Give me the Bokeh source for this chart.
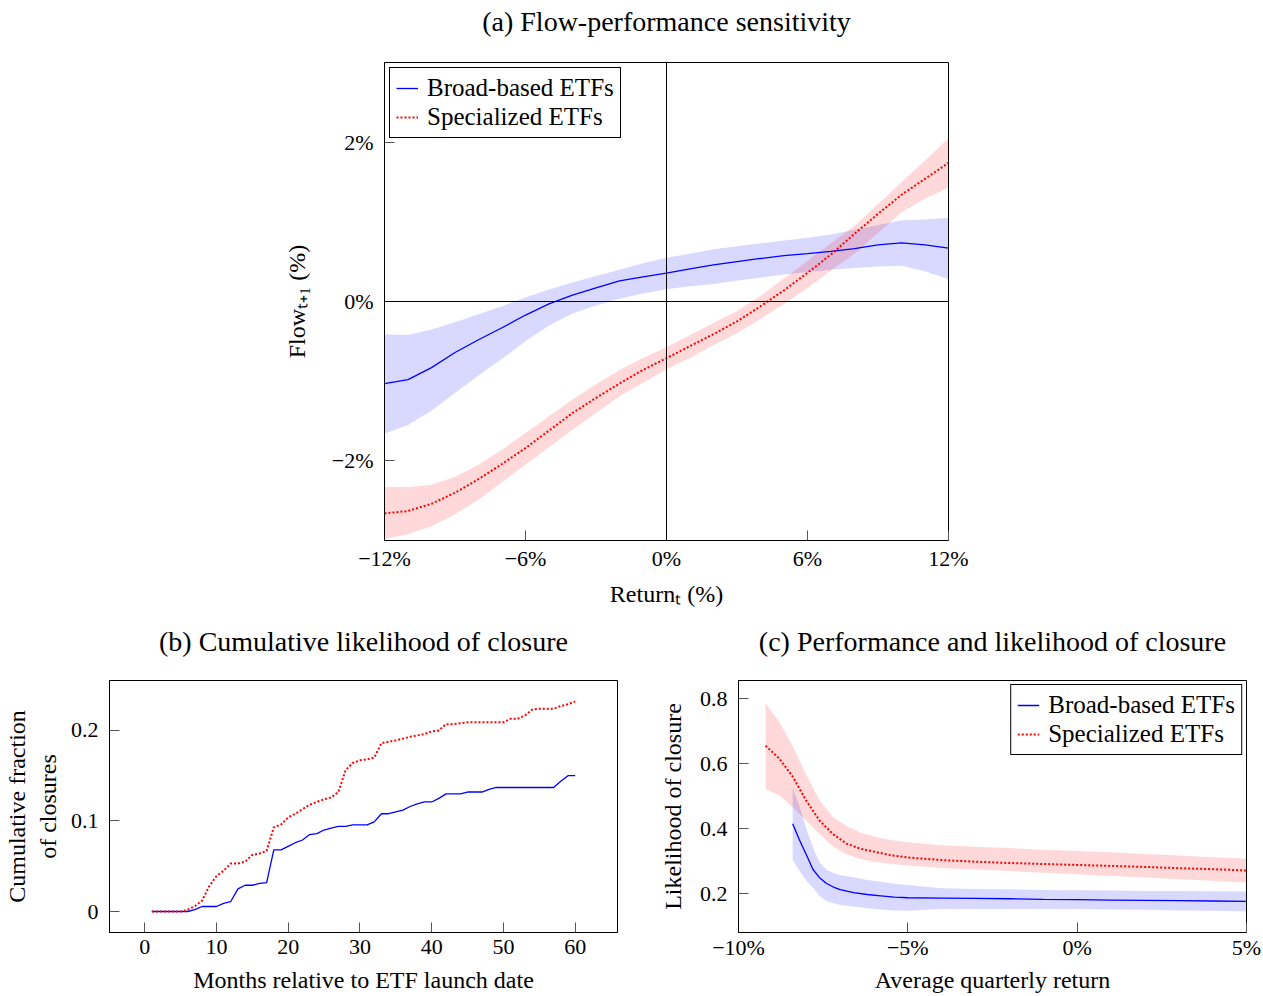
from bokeh.plotting import figure
from bokeh.models import Range1d, FixedTicker, CustomJSTickFormatter, Span, LinearAxis
from bokeh.layouts import column, row
from bokeh.embed import file_html
from bokeh.resources import INLINE

FONT = "Liberation Serif"

# ---------------- Panel (a): flow-performance sensitivity ----------------
a_x = [-12, -11, -10, -9, -8, -7, -6, -5, -4, -3, -2, -1, 0,
       1, 2, 3, 4, 5, 6, 7, 8, 9, 10, 11, 12]
a_broad = [-1.03, -0.98, -0.83, -0.64, -0.48, -0.33, -0.17, -0.03, 0.08, 0.17, 0.26, 0.31, 0.355,
           0.41, 0.46, 0.50, 0.54, 0.575, 0.60, 0.63, 0.665, 0.71, 0.735, 0.71, 0.67]
a_broad_hi = [-0.41, -0.42, -0.35, -0.26, -0.16, -0.06, 0.05, 0.15, 0.24, 0.32, 0.40, 0.48, 0.55,
              0.60, 0.655, 0.695, 0.73, 0.765, 0.80, 0.84, 0.90, 0.96, 1.02, 1.03, 1.05]
a_broad_lo = [-1.66, -1.55, -1.37, -1.15, -0.93, -0.72, -0.50, -0.30, -0.15, -0.05, 0.035, 0.10, 0.155,
              0.19, 0.22, 0.26, 0.30, 0.34, 0.37, 0.40, 0.42, 0.44, 0.45, 0.38, 0.28]
a_spec = [-2.66, -2.63, -2.54, -2.40, -2.23, -2.04, -1.84, -1.62, -1.40, -1.21, -1.03, -0.86, -0.71,
          -0.56, -0.41, -0.25, -0.06, 0.14, 0.36, 0.59, 0.85, 1.10, 1.34, 1.54, 1.74]
a_spec_hi = [-2.33, -2.33, -2.30, -2.20, -2.05, -1.86, -1.65, -1.44, -1.23, -1.04, -0.86, -0.71, -0.57,
             -0.42, -0.27, -0.12, 0.07, 0.29, 0.51, 0.73, 0.95, 1.22, 1.50, 1.77, 2.05]
a_spec_lo = [-2.98, -2.92, -2.82, -2.67, -2.49, -2.27, -2.05, -1.83, -1.61, -1.40, -1.19, -1.02, -0.85,
             -0.71, -0.55, -0.40, -0.22, -0.03, 0.17, 0.39, 0.60, 0.86, 1.12, 1.29, 1.43]
a_xticks = [-12, -6, 0, 6, 12]
a_yticks = [-2, 0, 2]

# ---------------- Panel (b): cumulative likelihood of closure ----------------
b_months = list(range(1, 61))
b_broad = [0, 0, 0, 0, 0, 0, 0.002, 0.0055, 0.0055, 0.0055,
           0.009, 0.011, 0.025, 0.029, 0.029, 0.031, 0.032, 0.068, 0.068, 0.072,
           0.076, 0.079, 0.085, 0.086, 0.090, 0.092, 0.094, 0.094, 0.0956, 0.0956,
           0.0956, 0.099, 0.108, 0.108, 0.110, 0.112, 0.116, 0.119, 0.121, 0.121,
           0.125, 0.130, 0.130, 0.130, 0.132, 0.132, 0.132, 0.135, 0.137, 0.137,
           0.137, 0.137, 0.137, 0.137, 0.137, 0.137, 0.137, 0.144, 0.150, 0.150]
b_spec = [0, 0, 0, 0, 0, 0.002, 0.006, 0.012, 0.028, 0.039,
          0.045, 0.053, 0.053, 0.055, 0.0625, 0.064, 0.067, 0.093, 0.096, 0.104,
          0.108, 0.113, 0.118, 0.121, 0.124, 0.126, 0.132, 0.156, 0.164, 0.167,
          0.168, 0.170, 0.186, 0.1875, 0.189, 0.191, 0.193, 0.1945, 0.196, 0.199,
          0.200, 0.207, 0.207, 0.208, 0.209, 0.209, 0.209, 0.209, 0.209, 0.209,
          0.213, 0.213, 0.2165, 0.223, 0.224, 0.224, 0.224, 0.227, 0.229, 0.232]
b_xticks = [0, 10, 20, 30, 40, 50, 60]
b_yticks = [0, 0.1, 0.2]

# ---------------- Panel (c): performance and likelihood of closure ----------------
c_spec_x = [-9.2, -8.8, -8.4, -8.0, -7.6, -7.2, -6.8, -6.4, -6.0, -5.5, -5.0,
            -4.0, -3.0, -2.0, -1.0, 0, 1, 2, 3, 4, 5]
c_spec = [0.655, 0.616, 0.560, 0.486, 0.424, 0.382, 0.353, 0.338, 0.329, 0.318, 0.311,
          0.303, 0.298, 0.294, 0.291, 0.288, 0.285, 0.282, 0.278, 0.275, 0.271]
c_spec_hi = [0.785, 0.730, 0.655, 0.566, 0.486, 0.434, 0.407, 0.388, 0.376, 0.365, 0.358,
             0.349, 0.344, 0.340, 0.335, 0.331, 0.327, 0.322, 0.317, 0.312, 0.308]
c_spec_lo = [0.522, 0.503, 0.466, 0.424, 0.383, 0.343, 0.320, 0.306, 0.298, 0.291, 0.286,
             0.279, 0.274, 0.269, 0.264, 0.259, 0.254, 0.249, 0.244, 0.239, 0.234]
c_broad_x = [-8.4, -8.2, -8.0, -7.8, -7.6, -7.4, -7.2, -7.0, -6.6, -6.2, -5.8, -5.4, -5.0,
             -4.0, -3.0, -2.0, -1.0, 0, 1, 2, 3, 4, 5]
c_broad = [0.415, 0.365, 0.320, 0.274, 0.248, 0.231, 0.220, 0.212, 0.203, 0.197, 0.193, 0.189, 0.187,
           0.186, 0.185, 0.184, 0.182, 0.181, 0.180, 0.179, 0.178, 0.177, 0.176]
c_broad_hi = [0.524, 0.470, 0.400, 0.342, 0.295, 0.273, 0.263, 0.257, 0.250, 0.242, 0.236, 0.230, 0.226,
              0.216, 0.214, 0.213, 0.211, 0.210, 0.209, 0.208, 0.208, 0.207, 0.206]
c_broad_lo = [0.305, 0.270, 0.240, 0.218, 0.192, 0.176, 0.170, 0.165, 0.160, 0.155, 0.151, 0.148, 0.147,
              0.152, 0.152, 0.152, 0.152, 0.152, 0.151, 0.150, 0.148, 0.147, 0.145]
c_xticks = [-10, -5, 0, 5]
c_yticks = [0.2, 0.4, 0.6, 0.8]

BLUE = "#0000ff"
RED = "#ff0000"

pct_fmt = CustomJSTickFormatter(code="""
const s = Math.abs(tick).toFixed(0) + "%";
return tick < 0 ? "\u2212" + s : s;
""")
dec_fmt = CustomJSTickFormatter(code="""
return Math.abs(tick) < 1e-9 ? "0" : tick.toFixed(1);
""")
int_fmt = CustomJSTickFormatter(code="return tick.toFixed(0);")


def style(p, title, xticks, yticks, xfmt, yfmt, xlabel, ylabel,
          xstand=7, xlstand=6, ylstand=12, tstand=25):
    xax = p.below[0]
    yax = p.left[0]
    p.xgrid.visible = False
    p.ygrid.visible = False
    p.outline_line_color = "black"
    p.outline_line_width = 1
    p.outline_line_alpha = 1
    p.background_fill_color = "white"
    p.border_fill_color = "white"
    for ax in (xax, yax):
        ax.axis_line_color = "black"
        ax.major_tick_in = 10
        ax.major_tick_out = 0
        ax.minor_tick_line_color = None
        ax.major_tick_line_color = "#555555"
        ax.major_label_text_font = FONT
        ax.major_label_text_font_size = "22px"
        ax.major_label_text_font_style = "normal"
        ax.major_label_text_color = "black"
        ax.axis_label_text_font = FONT
        ax.axis_label_text_font_size = "24px"
        ax.axis_label_text_font_style = "normal"
        ax.axis_label_text_color = "black"
    xax.ticker = FixedTicker(ticks=xticks)
    yax.ticker = FixedTicker(ticks=yticks)
    xax.formatter = xfmt
    yax.formatter = yfmt
    xax.major_label_standoff = xstand
    yax.major_label_standoff = 11
    xax.axis_label = xlabel
    yax.axis_label = ylabel
    xax.axis_label_standoff = xlstand
    yax.axis_label_standoff = ylstand

    # title drawn as the label of an empty axis above the frame
    tax = LinearAxis(ticker=FixedTicker(ticks=[]), axis_label=title)
    tax.axis_line_color = None
    tax.major_tick_line_color = None
    tax.minor_tick_line_color = None
    tax.major_tick_in = 0
    tax.major_tick_out = 0
    tax.major_label_standoff = 0
    tax.axis_label_standoff = tstand
    tax.axis_label_text_font = FONT
    tax.axis_label_text_font_size = "28px"
    tax.axis_label_text_font_style = "normal"
    tax.axis_label_text_color = "black"
    p.add_layout(tax, "above")


def style_legend(p, loc, margin):
    lg = p.legend[0]
    lg.location = loc
    lg.margin = margin
    lg.border_line_color = "black"
    lg.border_line_width = 1
    lg.border_line_alpha = 1
    lg.background_fill_color = "white"
    lg.background_fill_alpha = 1
    lg.label_text_font = FONT
    lg.label_text_font_size = "25px"
    lg.label_text_color = "black"
    lg.glyph_width = 22
    lg.glyph_height = 20
    lg.label_standoff = 9
    lg.padding = 6
    lg.spacing = 1


# ---------- figure (a) ----------
pa = figure(width=1263, height=620, x_range=Range1d(-12, 12), y_range=Range1d(-3, 3),
            output_backend="svg", toolbar_location=None,
            min_border_left=384, min_border_right=315, min_border_top=62, min_border_bottom=80)
style(pa, "(a) Flow-performance sensitivity", a_xticks, a_yticks, pct_fmt, pct_fmt,
      "Return\u209c (%)", "Flow\u209c\u208a\u2081 (%)", xstand=5, xlstand=7, ylstand=19, tstand=26)
pa.varea(x=a_x, y1=a_broad_lo, y2=a_broad_hi, fill_color=BLUE, fill_alpha=0.15)
pa.varea(x=a_x, y1=a_spec_lo, y2=a_spec_hi, fill_color=RED, fill_alpha=0.15)
pa.add_layout(Span(location=0, dimension="width", line_color="black", line_width=1))
pa.add_layout(Span(location=0, dimension="height", line_color="black", line_width=1))
pa.line(a_x, a_broad, line_color=BLUE, line_width=1.3, legend_label="Broad-based ETFs")
pa.line(a_x, a_spec, line_color=RED, line_width=2, line_dash="2 2", legend_label="Specialized ETFs")
style_legend(pa, "top_left", 5)

# ---------- figure (b) ----------
pb = figure(width=650, height=376, x_range=Range1d(-4.9, 65.9), y_range=Range1d(-0.0232, 0.2552),
            output_backend="svg", toolbar_location=None,
            min_border_left=109, min_border_right=33, min_border_top=60, min_border_bottom=64)
style(pb, "(b) Cumulative likelihood of closure", b_xticks, b_yticks, int_fmt, dec_fmt,
      "Months relative to ETF launch date", "Cumulative fraction\nof closures",
      xstand=7, xlstand=10, ylstand=7, tstand=24)
pb.line(b_months, b_broad, line_color=BLUE, line_width=1.3)
pb.line(b_months, b_spec, line_color=RED, line_width=2, line_dash="2 2")

# ---------- figure (c) ----------
pc = figure(width=613, height=376, x_range=Range1d(-10, 5), y_range=Range1d(0.08, 0.856),
            output_backend="svg", toolbar_location=None,
            min_border_left=88, min_border_right=17, min_border_top=60, min_border_bottom=64)
style(pc, "(c) Performance and likelihood of closure", c_xticks, c_yticks, pct_fmt, dec_fmt,
      "Average quarterly return", "Likelihood of closure",
      xstand=2, xlstand=4, ylstand=11, tstand=24)
pc.varea(x=c_spec_x, y1=c_spec_lo, y2=c_spec_hi, fill_color=RED, fill_alpha=0.15)
pc.varea(x=c_broad_x, y1=c_broad_lo, y2=c_broad_hi, fill_color=BLUE, fill_alpha=0.15)
pc.line(c_broad_x, c_broad, line_color=BLUE, line_width=1.3, legend_label="Broad-based ETFs")
pc.line(c_spec_x, c_spec, line_color=RED, line_width=2, line_dash="2 2", legend_label="Specialized ETFs")
style_legend(pc, "top_right", 4)

layout = column(pa, row(pb, pc))
open("out.html", "w").write(file_html(layout, INLINE))
